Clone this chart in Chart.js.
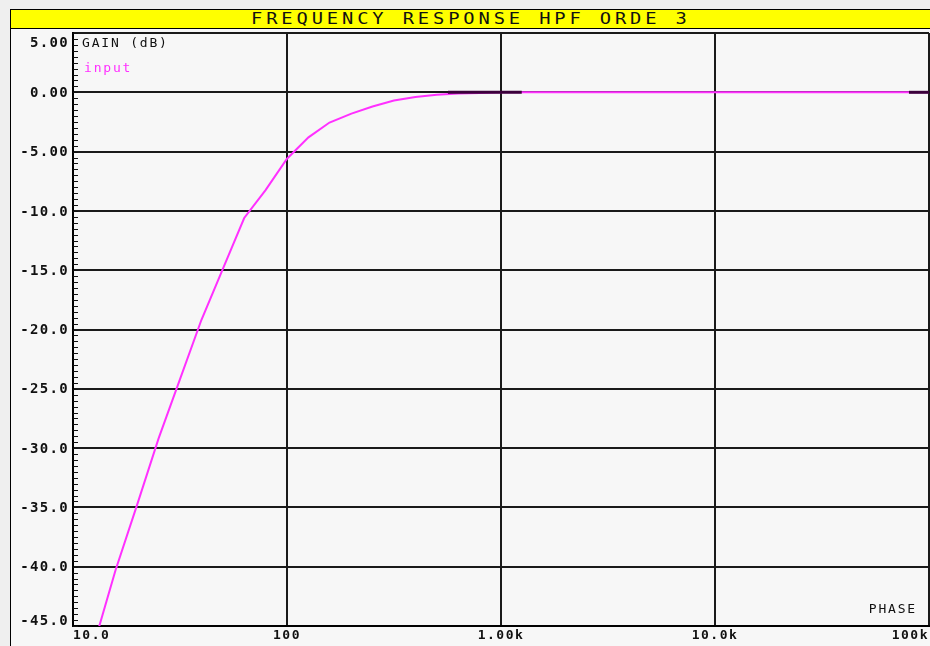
<!DOCTYPE html>
<html>
<head>
<meta charset="utf-8">
<script src="https://cdn.jsdelivr.net/npm/chart.js@4"></script>
<style>
  html, body { margin: 0; padding: 0; background: #efefef; width: 930px; height: 646px; overflow: hidden; }
  #frame { position: absolute; left: 10px; top: 9px; width: 930px; height: 650px; background: #f7f7f7; border: 1px solid #000; box-sizing: border-box; }
  #title { height: 18px; background: #ffff00; border-bottom: 1px solid #000; width: 919px; text-align: center; overflow: hidden; }
  #title span { display: inline-block; font: 15px "DejaVu Sans Mono", monospace; letter-spacing: 3.1px; line-height: 19px; color: #111;
                transform: scaleX(1.25); transform-origin: center; }
  #wrap { position: absolute; left: 0; top: 0; width: 930px; height: 646px; }
</style>
</head>
<body>
<div id="frame"><div id="title"><span>FREQUENCY RESPONSE HPF ORDE 3</span></div></div>
<div id="wrap"><canvas id="chart" width="930" height="646"></canvas></div>
<script>
// Frequency (Hz) and gain (dB)
const freqHz = [10, 12.6, 15.8, 20, 25.1, 31.6, 39.8, 50.1, 63.1, 79.4, 100, 126, 158, 200, 251, 316, 398, 501, 631, 794, 1000, 10000, 100000];
const gainDb = [-52.5, -46.4, -40.3, -34.7, -29.2, -24.2, -19.2, -14.9, -10.6, -8.25, -5.6, -3.8, -2.55, -1.8, -1.2, -0.7, -0.4, -0.2, -0.1, -0.05, 0, 0, 0];

// dark trace segments overlapping the 0 dB line
const overlayFreqA = [565, 1250];
const overlayFreqB = [80600, 100000];
const overlayGain = [0, 0];

const xTicks = [10, 100, 1000, 10000, 100000];
const xTickLabels = ['10.0', '100', '1.00k', '10.0k', '100k'];
const yTicks = [5, 0, -5, -10, -15, -20, -25, -30, -35, -40, -45];
const yTickLabels = ['5.00', '0.00', '-5.00', '-10.0', '-15.0', '-20.0', '-25.0', '-30.0', '-35.0', '-40.0', '-45.0'];

const toPoints = (xs, ys) => xs.map((x, i) => ({ x: x, y: ys[i] }));

// Tick labels, minor ticks and the inside captions
const decorPlugin = {
  id: 'decor',
  afterDraw(chart) {
    const ctx = chart.ctx;
    const xs = chart.scales.x, ys = chart.scales.y;
    const area = chart.chartArea;
    ctx.save();

    // minor ticks every 0.5 dB on the left edge
    ctx.strokeStyle = '#111';
    ctx.lineWidth = 1;
    for (let v = -45; v <= 5; v += 0.5) {
      const py = Math.round(ys.getPixelForValue(v)) + 0.5;
      ctx.beginPath();
      ctx.moveTo(area.left, py);
      ctx.lineTo(area.left + 5, py);
      ctx.stroke();
    }

    // y labels
    ctx.fillStyle = '#111';
    ctx.font = 'bold 14px "DejaVu Sans Mono", monospace';
    ctx.letterSpacing = '1.3px';
    ctx.textAlign = 'right';
    ctx.textBaseline = 'middle';
    yTicks.forEach((v, i) => {
      let py = ys.getPixelForValue(v) + 1;
      if (i === 0) py += 9;
      if (i === yTicks.length - 1) py -= 6;
      ctx.fillText(yTickLabels[i], area.left - 4, py);
    });

    // x labels
    ctx.font = 'bold 13px "DejaVu Sans Mono", monospace';
    ctx.letterSpacing = '1.5px';
    xTicks.forEach((v, i) => {
      const px = xs.getPixelForValue(v);
      ctx.textAlign = i === 0 ? 'left' : (i === xTicks.length - 1 ? 'right' : 'center');
      ctx.fillText(xTickLabels[i], px, 636);
    });

    // captions
    ctx.font = '13px "DejaVu Sans Mono", monospace';
    ctx.letterSpacing = '1.8px';
    ctx.textAlign = 'left';
    ctx.fillStyle = '#111';
    ctx.fillText('GAIN (dB)', area.left + 9, 44);
    ctx.fillStyle = '#ff30ff';
    ctx.fillText('input', area.left + 11, 69);
    ctx.fillStyle = '#111';
    ctx.textAlign = 'right';
    ctx.fillText('PHASE', area.right - 12, 610);
    ctx.restore();
  }
};

new Chart(document.getElementById('chart'), {
  type: 'line',
  data: {
    datasets: [
      {
        label: 'input',
        data: toPoints(freqHz, gainDb),
        borderColor: '#ff30ff',
        borderWidth: 2,
        pointRadius: 0,
        tension: 0,
        order: 2
      },
      {
        label: 'overlayA',
        data: toPoints(overlayFreqA, overlayGain),
        borderColor: '#3a003a',
        borderWidth: 3,
        pointRadius: 0,
        order: 1
      },
      {
        label: 'overlayB',
        data: toPoints(overlayFreqB, overlayGain),
        borderColor: '#3a003a',
        borderWidth: 3,
        pointRadius: 0,
        order: 1
      }
    ]
  },
  options: {
    responsive: false,
    animation: false,
    layout: { padding: { top: 33, right: 1, left: 0, bottom: 0 } },
    plugins: { legend: { display: false }, tooltip: { enabled: false } },
    scales: {
      x: {
        type: 'logarithmic',
        min: 10,
        max: 100000,
        afterBuildTicks: (scale) => { scale.ticks = xTicks.map(v => ({ value: v })); },
        afterFit: (scale) => { scale.height = 20; },
        ticks: { display: false },
        grid: { color: '#1a1a1a', lineWidth: 2, drawTicks: false },
        border: { color: '#000', width: 2 }
      },
      y: {
        min: -45,
        max: 5,
        afterBuildTicks: (scale) => { scale.ticks = yTicks.map(v => ({ value: v })); },
        afterFit: (scale) => { scale.width = 73; },
        ticks: { display: false },
        grid: { color: '#1a1a1a', lineWidth: 2, drawTicks: false },
        border: { color: '#000', width: 2 }
      }
    }
  },
  plugins: [decorPlugin]
});
</script>
</body>
</html>
